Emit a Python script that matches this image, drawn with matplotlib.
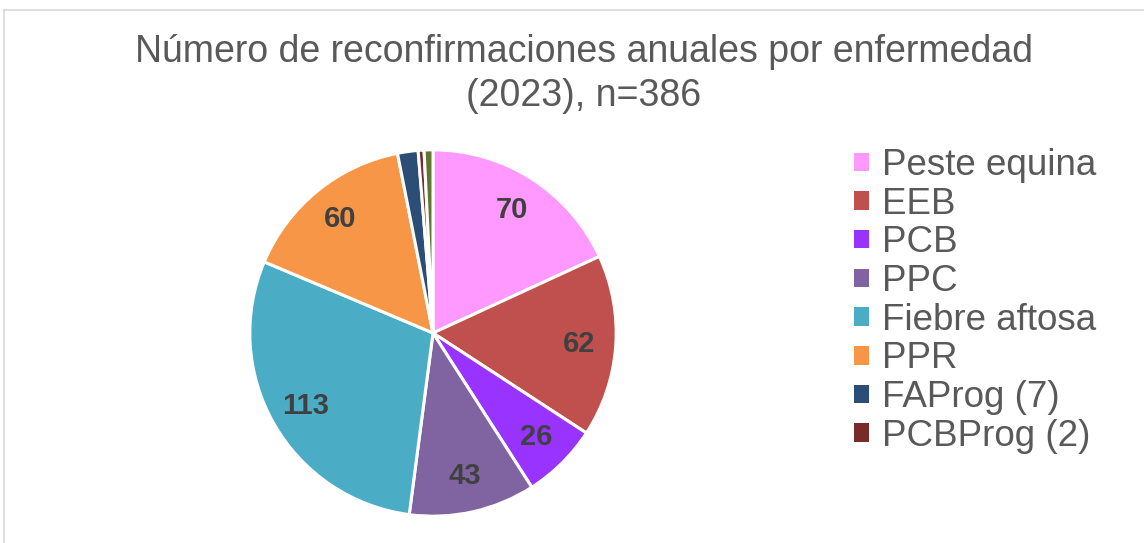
import numpy as np
import matplotlib.pyplot as plt
from matplotlib.lines import Line2D
from matplotlib.patches import Patch

plt.rcParams['font.family'] = ['Liberation Sans', 'DejaVu Sans']

labels = ['Peste equina', 'EEB', 'PCB', 'PPC', 'Fiebre aftosa', 'PPR',
          'FAProg (7)', 'PCBProg (2)', 'Otros']
values = [70, 62, 26, 43, 113, 60, 7, 2, 3]
colors = ['#FF99FF', '#C0504D', '#9933FF', '#8064A2', '#4BACC6', '#F79646',
          '#2C4D75', '#772C2A', '#5F7530']
n_labeled = 6   # slices with a value label
n_legend = 8    # entries visible in the legend

W, H = 1144, 543
fig = plt.figure(figsize=(W / 100, H / 100), dpi=100)

# light frame of the chart area (cropped on the right and bottom)
fig.add_artist(Line2D([3.5 / W, 3.5 / W], [0, 1 - 9.5 / H], color='#D9D9D9', lw=1.2,
                      transform=fig.transFigure))
fig.add_artist(Line2D([3.5 / W, 1], [1 - 9.5 / H, 1 - 9.5 / H], color='#D9D9D9', lw=1.2,
                      transform=fig.transFigure))

cx, cy, r = 433, 333, 185
ax = fig.add_axes([(cx - r) / W, (H - cy - r) / H, 2 * r / W, 2 * r / H])
ax.pie(values, colors=colors, startangle=90, counterclock=False,
       wedgeprops=dict(edgecolor='white', linewidth=2.2))
ax.set_xlim(-1.01, 1.01)
ax.set_ylim(-1.01, 1.01)
ax.set_aspect('equal')
ax.axis('off')

total = sum(values)
cum = 0
for i, v in enumerate(values):
    mid = (cum + v / 2) / total * 2 * np.pi
    cum += v
    if i < n_labeled:
        d = 0.8
        ax.text(d * np.sin(mid), d * np.cos(mid), str(v), ha='center', va='center',
                fontsize=21, fontweight='bold', color='#404040')

fig.text(584 / W, 1 - 74 / H, 'Número de reconfirmaciones anuales por enfermedad\n(2023), n=386',
         ha='center', va='center', fontsize=27, color='#595959', linespacing=1.27)

handles = [Patch(facecolor=colors[i], edgecolor='none') for i in range(n_legend)]
leg = fig.legend(handles, labels[:n_legend], loc='upper left',
                 bbox_to_anchor=(854 / W, 1 - 148 / H),
                 frameon=False, fontsize=26.5, handlelength=0.4, handleheight=0.4,
                 handletextpad=0.35, labelspacing=0.1, borderaxespad=0, borderpad=0)
for t in leg.get_texts():
    t.set_color('#595959')

fig.savefig('out.png', dpi=100)
